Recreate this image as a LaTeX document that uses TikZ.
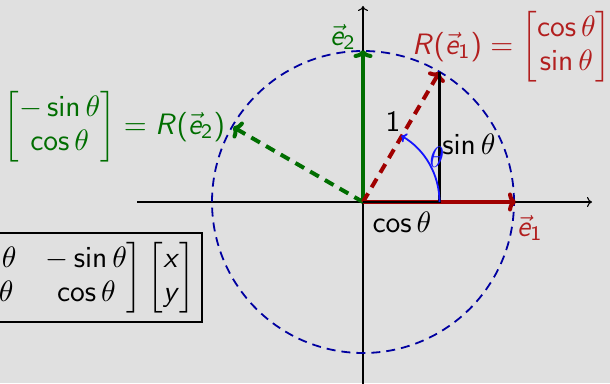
\documentclass[tikz,border=0pt]{standalone}
\usepackage{amsmath}
\usetikzlibrary{arrows.meta}
\SetSymbolFont{operators}{normal}{OT1}{cmss}{m}{n}
\DeclareSymbolFont{sfit}{OT1}{cmss}{m}{sl}
\DeclareMathSymbol{x}{\mathalpha}{sfit}{`x}
\DeclareMathSymbol{y}{\mathalpha}{sfit}{`y}
\DeclareMathSymbol{R}{\mathalpha}{sfit}{`R}
\DeclareMathSymbol{e}{\mathalpha}{sfit}{`e}
\definecolor{bg}{RGB}{224,224,224}
\definecolor{vred}{RGB}{160,0,0}
\definecolor{tred}{RGB}{178,30,30}
\definecolor{vgreen}{RGB}{0,110,0}
\definecolor{cblue}{RGB}{0,0,160}
\definecolor{ablue}{RGB}{20,20,255}
\begin{document}
\begin{tikzpicture}[x=1pt,y=1pt,
  every node/.style={inner sep=0pt, scale=2.95, transform shape, font=\fontsize{10}{11.5}\selectfont},
  ax/.style={line width=1.1pt, -{To[length=5pt,width=10pt]}},
  solidvec/.style={line width=4pt, -{To[length=8pt,width=19pt]}},
  dashvec/.style={line width=4pt, dash pattern=on 10pt off 7pt, -{To[length=8pt,width=19pt]}},
  circ/.style={draw=cblue, line width=1.8pt, dash pattern=on 9pt off 6pt},
  leg/.style={line width=2.4pt, black},
  angarc/.style={ablue, line width=1.8pt, -{To[length=5pt,width=10pt]}},
  boxed/.style={draw, line width=1.1pt, fill=bg}
]
\fill[bg] (0,0) rectangle (610,383);
\useasboundingbox (0,0) rectangle (610,383);
% coordinates
\coordinate (O) at (363,181);
\coordinate (xs) at (137,181);
\coordinate (xe) at (592,181);
\coordinate (ys) at (363,-5);
\coordinate (ye) at (363,377);
\coordinate (E1) at (516,181);
\coordinate (E2) at (363,333);
\coordinate (RE1) at (439.5,311);
\coordinate (RE2) at (233,256);
\coordinate (F) at (439.5,181);
\coordinate (A0) at (439.5,181);
% axes
\draw[ax] (xs) -- (xe);
\draw[ax] (ys) -- (ye);
% unit circle
\draw[circ] (O) circle[radius=151];
% vectors
\draw[solidvec, vgreen] (O) -- (E2);
\draw[solidvec, vred] (O) -- (E1);
\draw[dashvec, vgreen] (O) -- (RE2);
\draw[dashvec, vred] (O) -- (RE1);
% legs
\draw[leg] (O) -- (F) -- (RE1);
% angle arc
\draw[angarc] (A0) arc[start angle=0, end angle=60, radius=76.5];
% labels
\node (le2) at (343,346) {\color{vgreen}$\vec{e}_2$};
\node (le1) at (530,155) {\color{tred}$\vec{e}_1$};
\node (lcos) at (402,161) {$\cos\theta$};
\node (lsin) at (469,239) {$\sin\theta$};
\node (lone) at (393,261) {$1$};
\node (lth) at (437,226) {\color{ablue}$\theta$};
\node[anchor=east] (lr1) at (612,336) {\color{tred}$R(\vec{e}_1)=\begin{bmatrix}\cos\theta\\ \sin\theta\end{bmatrix}$};
\node[anchor=west] (lr2) at (3,256) {\color{vgreen}$\begin{bmatrix}-\sin\theta\\ \cos\theta\end{bmatrix}=R(\vec{e}_2)$};
% box with the rotation matrix
\draw[boxed] (-10,61) rectangle (202,150);
\node[anchor=east] (mat) at (196,105.5) {$\begin{bmatrix}\cos\theta & -\sin\theta\\ \sin\theta & \cos\theta\end{bmatrix}\begin{bmatrix}x\\ y\end{bmatrix}$};
\end{tikzpicture}
\end{document}
